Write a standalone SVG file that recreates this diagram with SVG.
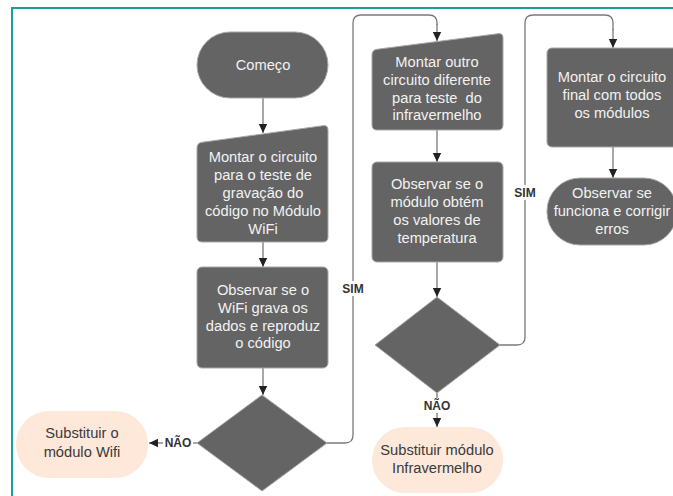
<svg xmlns="http://www.w3.org/2000/svg" width="673" height="496" viewBox="0 0 673 496">
<defs>
<marker id="arr" markerWidth="10" markerHeight="10" refX="9" refY="5" orient="auto" markerUnits="userSpaceOnUse">
<path d="M0,0.8 L9,5 L0,9.2 Z" fill="#222"/>
</marker>
<style>
.dk{fill:#646464;stroke:#a8a8a8;stroke-width:1;stroke-linejoin:round}
.pc{fill:#fde8da;stroke:none}
.t{font-family:"Liberation Sans",Arial,sans-serif;font-size:14.7px;fill:#f2f2f2;text-anchor:middle}
.tp{font-family:"Liberation Sans",Arial,sans-serif;font-size:14.7px;fill:#3a3a3a;text-anchor:middle}
.c{fill:none;stroke:#7a7a7a;stroke-width:1.3}
.ca{fill:none;stroke:#7a7a7a;stroke-width:1.3;marker-end:url(#arr)}
.lb{font-family:"Liberation Sans",Arial,sans-serif;font-size:12px;font-weight:bold;fill:#333;text-anchor:middle}
</style>
</defs>
<rect x="0" y="0" width="673" height="496" fill="#ffffff"/>
<rect x="12" y="8" width="720" height="560" fill="none" stroke="#17a09b" stroke-width="2"/>

<g id="connectors">
<path class="ca" d="M263,98 L263,133"/>
<path class="ca" d="M263,242 L263,267"/>
<path class="ca" d="M263,368 L263,395"/>
<path class="c" d="M197,443 L193,443"/>
<path class="ca" d="M163,443 L149,443"/>
<path class="c" d="M327,443 L345,443 Q353,443 353,435 L353,23 Q353,15 361,15 L429,15 Q437,15 437,23 L437,25"/>
<path class="ca" d="M437,24 L437,41"/>
<path class="ca" d="M437,130 L437,162"/>
<path class="ca" d="M437,262 L437,297"/>
<path class="c" d="M437,393 L437,398"/>
<path class="ca" d="M437,413 L437,427"/>
<path class="c" d="M500,345 L517,345 Q525,345 525,337 L525,23 Q525,15 533,15 L605,15 Q613,15 613,23 L613,30"/>
<path class="ca" d="M613,29 L613,48"/>
<path class="ca" d="M613,147 L613,178"/>
<rect x="341" y="281" width="24" height="15" fill="#fff"/>
<text class="lb" x="353" y="293">SIM</text>
<rect x="513" y="185" width="24" height="15" fill="#fff"/>
<text class="lb" x="525" y="197">SIM</text>
<text class="lb" x="178" y="447">NÃO</text>
<text class="lb" x="437" y="410">NÃO</text>
</g>

<g id="n-comeco">
<rect class="dk" x="197" y="32" width="131" height="66" rx="33" ry="33"/>
<text class="t" x="263" y="70">Começo</text>
</g>

<g id="n-montar1">
<path class="dk" d="M202,142.3 L323,125.7 Q328,125 328,130 L328,237 Q328,242 323,242 L202,242 Q197,242 197,237 L197,148 Q197,143 202,142.3 Z"/>
<text class="t" x="263" y="162">Montar o circuito</text>
<text class="t" x="263" y="180">para o teste de</text>
<text class="t" x="263" y="198">gravação do</text>
<text class="t" x="263" y="216">código no Módulo</text>
<text class="t" x="263" y="234">WiFi</text>
</g>

<g id="n-observar1">
<rect class="dk" x="197" y="267" width="131" height="101" rx="5" ry="5"/>
<text class="t" x="263" y="295">Observar se o</text>
<text class="t" x="263" y="313">WiFi grava os</text>
<text class="t" x="263" y="331">dados e reproduz</text>
<text class="t" x="263" y="348">o código</text>
</g>

<g id="n-dec1">
<path class="dk" d="M262,395 L327,443 L262,491 L197,443 Z" stroke-width="2" stroke="#646464"/>
</g>

<g id="n-subst-wifi">
<rect class="pc" x="16" y="411" width="132" height="67" rx="33" ry="33"/>
<text class="tp" x="82" y="438">Substituir o</text>
<text class="tp" x="82" y="457">módulo Wifi</text>
</g>

<g id="n-montar2">
<path class="dk" d="M377,49.3 L498,33.7 Q503,33 503,38 L503,125 Q503,130 498,130 L377,130 Q372,130 372,125 L372,55 Q372,50 377,49.3 Z"/>
<text class="t" x="437" y="67">Montar outro</text>
<text class="t" x="437" y="85">circuito diferente</text>
<text class="t" x="437" y="103" xml:space="preserve">para teste  do</text>
<text class="t" x="437" y="120">infravermelho</text>
</g>

<g id="n-observar2">
<rect class="dk" x="372" y="162" width="131" height="100" rx="5" ry="5"/>
<text class="t" x="437" y="189">Observar se o</text>
<text class="t" x="437" y="207">módulo obtém</text>
<text class="t" x="437" y="225">os valores de</text>
<text class="t" x="437" y="243">temperatura</text>
</g>

<g id="n-dec2">
<path class="dk" d="M437,297 L500,345 L437,393 L375,345 Z" stroke-width="2" stroke="#646464"/>
</g>

<g id="n-subst-ir">
<rect class="pc" x="372" y="427" width="131" height="66" rx="33" ry="33"/>
<text class="tp" x="437" y="455">Substituir módulo</text>
<text class="tp" x="437" y="473">Infravermelho</text>
</g>

<g id="n-montar-final">
<rect class="dk" x="547" y="48" width="132" height="99" rx="5" ry="5"/>
<text class="t" x="612" y="82">Montar o circuito</text>
<text class="t" x="612" y="100">final com todos</text>
<text class="t" x="612" y="118">os módulos</text>
</g>

<g id="n-observar-final">
<rect class="dk" x="547" y="178" width="130" height="67" rx="33" ry="33"/>
<text class="t" x="612" y="198">Observar se</text>
<text class="t" x="612" y="216">funciona e corrigir</text>
<text class="t" x="612" y="234">erros</text>
</g>
</svg>
